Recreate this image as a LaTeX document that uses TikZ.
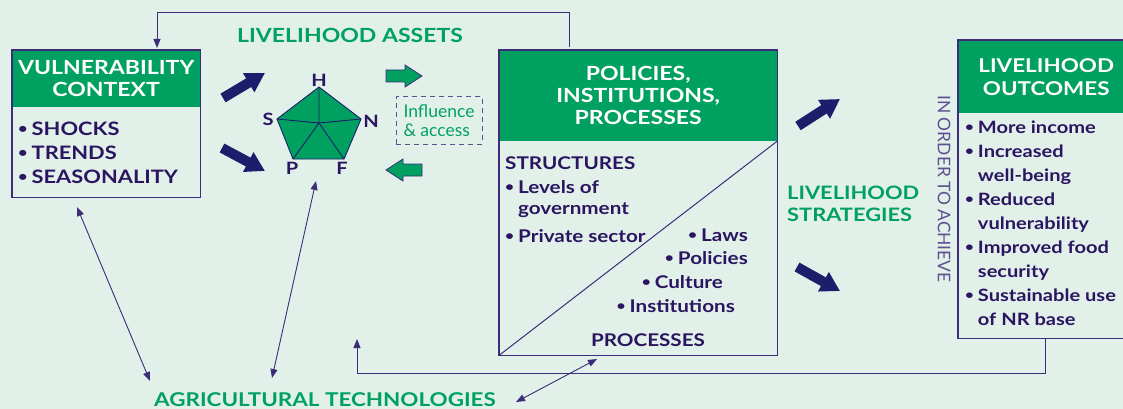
\documentclass[tikz,border=0pt]{standalone}
\usepackage{fontspec}
\setmainfont{Lato}[BoldFeatures={FakeStretch=1.18}]
\usetikzlibrary{arrows.meta, positioning, calc}

\definecolor{bgcol}{HTML}{E2F0EA}
\definecolor{slgreen}{HTML}{00A160}
\definecolor{slpurple}{HTML}{2B1560}
\definecolor{sline}{HTML}{3C2C7A}
\definecolor{slnavy}{HTML}{1B1E6B}
\definecolor{slgrey}{HTML}{5C5090}

\newcommand{\bul}{\raisebox{1.6pt}{\scalebox{0.75}{\textbullet}}\hspace{4pt}}
\newcommand{\bulgap}{\hphantom{\bul}}

\tikzset{
  head/.style={fill=slgreen, text=white, align=center, inner sep=0pt,
    font=\fontsize{19.5}{22}\selectfont\bfseries},
  body/.style={inner sep=0pt},
  itemtxt/.style={text=slpurple, align=left, inner sep=0pt,
    font=\fontsize{17.5}{24}\selectfont\bfseries},
  greentxt/.style={text=slgreen, align=left, inner sep=0pt,
    font=\fontsize{19.5}{22}\selectfont\bfseries},
  letter/.style={text=slpurple, inner sep=0pt,
    font=\fontsize{17}{17}\selectfont\bfseries},
  fatarrow/.style={slnavy, line width=10pt, -{Triangle[length=19pt,width=21pt]}},
  blockarrow/.style={fill=slgreen, draw=sline, line width=0.8pt},
  thinarrow/.style={sline, line width=0.9pt,
    {Triangle[length=9pt,width=7pt]}-{Triangle[length=9pt,width=7pt]}},
  feedback/.style={sline, line width=1pt, -{Triangle[length=9pt,width=7pt]}},
  boxline/.style={draw=sline, line width=1.2pt},
}

\begin{document}
\begin{tikzpicture}[x=1pt, y=-1pt]
\path[clip] (0,0) rectangle (1123,409);
\fill[bgcol] (0,0) rectangle (1123,409);

% vulnerability context
\node[head, minimum width=188, minimum height=57, anchor=north west] (vulhead) at (12,50) {VULNERABILITY\\CONTEXT};
\node[body, minimum width=188, minimum height=90, anchor=north west] (vulbody) at (12,107) {};
\draw[boxline] (vulhead.north west) rectangle (vulbody.south east);
\node[itemtxt, anchor=base west, font=\fontsize{18.5}{24}\selectfont\bfseries] (vultxt) at (18,183.5) {\bul SHOCKS\\\bul TRENDS\\\bul SEASONALITY};

% livelihood assets
\node[greentxt] (assets) at (350,35) {LIVELIHOOD ASSETS};
\coordinate (H) at (319,87);
\coordinate (N) at (361,119);
\coordinate (F) at (344,159);
\coordinate (P) at (293,159);
\coordinate (S) at (277,119);
\coordinate (ctr) at (319,123);
\filldraw[fill=slgreen, draw=slnavy, line width=0.9pt] (H) -- (N) -- (F) -- (P) -- (S) -- cycle;
\draw[slnavy, line width=0.9pt] (ctr) -- (H) (ctr) -- (N) (ctr) -- (F) (ctr) -- (P) (ctr) -- (S);
\node[letter, anchor=base] (lH) at (319,87) {H};
\node[letter, anchor=base] (lS) at (268,125) {S};
\node[letter, anchor=base] (lN) at (371,128) {N};
\node[letter, anchor=base] (lP) at (292,174) {P};
\node[letter, anchor=base] (lF) at (342,174) {F};

\coordinate (va1) at (223,98);
\coordinate (va2) at (265,73);
\coordinate (vb1) at (222,148);
\coordinate (vb2) at (265,171);
\draw[fatarrow] (va1) -- (va2);
\draw[fatarrow] (vb1) -- (vb2);

% influence and access
\filldraw[blockarrow] (386,70) -- (405,70) -- (405,65) -- (422,76) -- (405,87) -- (405,82) -- (386,82) -- cycle;
\filldraw[blockarrow] (422,164) -- (403,164) -- (403,159) -- (386,170) -- (403,181) -- (403,176) -- (422,176) -- cycle;
\node[draw=slgrey, dash pattern=on 5pt off 4pt, line width=1pt, minimum width=86, minimum height=47,
  text=slgreen, align=left, inner sep=0pt, font=\fontsize{17.5}{18.5}\selectfont] (infl) at (439,120.5) {Influence\\\& access};

% policies, institutions, processes
\node[head, minimum width=278, minimum height=91, anchor=north west, font=\fontsize{19.5}{22}\selectfont\bfseries] (piphead) at (499,50) {POLICIES,\\INSTITUTIONS,\\PROCESSES};
\node[body, minimum width=278, minimum height=214, anchor=north west] (pipbody) at (499,141) {};
\draw[boxline] (piphead.north west) rectangle (pipbody.south east);
\draw[sline, line width=1pt] (pipbody.south west) -- (pipbody.north east);
\node[itemtxt, anchor=base west] (struct) at (505,169) {STRUCTURES};
\node[itemtxt, anchor=base west, font=\fontsize{17.5}{21}\selectfont\bfseries] (levels) at (505,214) {\bul Levels of\\\bulgap government};
\node[itemtxt, anchor=base west] (private) at (505,242) {\bul Private sector};
\node[itemtxt, anchor=base east] (laws) at (748,241) {\bul Laws};
\node[itemtxt, anchor=base east] (pol) at (748,264) {\bul Policies};
\node[itemtxt, anchor=base east] (cult) at (723,288) {\bul Culture};
\node[itemtxt, anchor=base east] (inst) at (735,312) {\bul Institutions};
\node[itemtxt, anchor=base] (proc) at (648,346) {PROCESSES};

% livelihood strategies
\coordinate (sa1) at (798,126);
\coordinate (sa2) at (840,99);
\coordinate (sb1) at (797,267);
\coordinate (sb2) at (840,291);
\draw[fatarrow] (sa1) -- (sa2);
\draw[fatarrow] (sb1) -- (sb2);
\node[greentxt, anchor=base west, font=\fontsize{18.5}{22}\selectfont\bfseries] (strat) at (787,221.5) {LIVELIHOOD\\STRATEGIES};
\node[text=slgrey, rotate=-90, inner sep=0pt, font=\fontsize{17.4}{18}\selectfont] (achieve) at (944,189) {IN ORDER TO ACHIEVE};

% livelihood outcomes
\node[head, minimum width=176, minimum height=73, anchor=north west, font=\fontsize{19}{23}\selectfont\bfseries] (outhead) at (958,40) {LIVELIHOOD\\OUTCOMES};
\node[body, minimum width=176, minimum height=225, anchor=north west] (outbody) at (958,113) {};
\draw[boxline] (outhead.north west) rectangle (outbody.south east);
\node[itemtxt, anchor=base west, font=\fontsize{17}{24}\selectfont\bfseries] (outtxt) at (965,325) {\bul More income\\\bul Increased\\\bulgap well-being\\\bul Reduced\\\bulgap vulnerability\\\bul Improved food\\\bulgap security\\\bul Sustainable use\\\bulgap of NR base};

% feedback lines
\coordinate (fbA) at (569,13);
\coordinate (fbB) at (157,13);
\draw[feedback, shorten >=2pt] (piphead.north -| fbA) ++(0,-3) -- (fbA) -- (fbB) -- (vulhead.north -| fbB);
\coordinate (fbC) at (1045,373);
\coordinate (fbD) at (357,373);
\coordinate (fbE) at (357,339);
\draw[feedback] (outbody.south -| fbC) -- (fbC) -- (fbD) -- (fbE);

% agricultural technologies
\node[greentxt, font=\fontsize{19}{22}\selectfont\bfseries] (agri) at (325,400) {AGRICULTURAL TECHNOLOGIES};
\coordinate (t1) at (77,207);
\coordinate (t2) at (150,381);
\coordinate (t3) at (316,181);
\coordinate (t4) at (272,378);
\coordinate (t5) at (597,359);
\coordinate (t6) at (516,402);
\draw[thinarrow] (t1) -- (t2);
\draw[thinarrow] (t3) -- (t4);
\draw[thinarrow] (t5) -- (t6);
\end{tikzpicture}
\end{document}
